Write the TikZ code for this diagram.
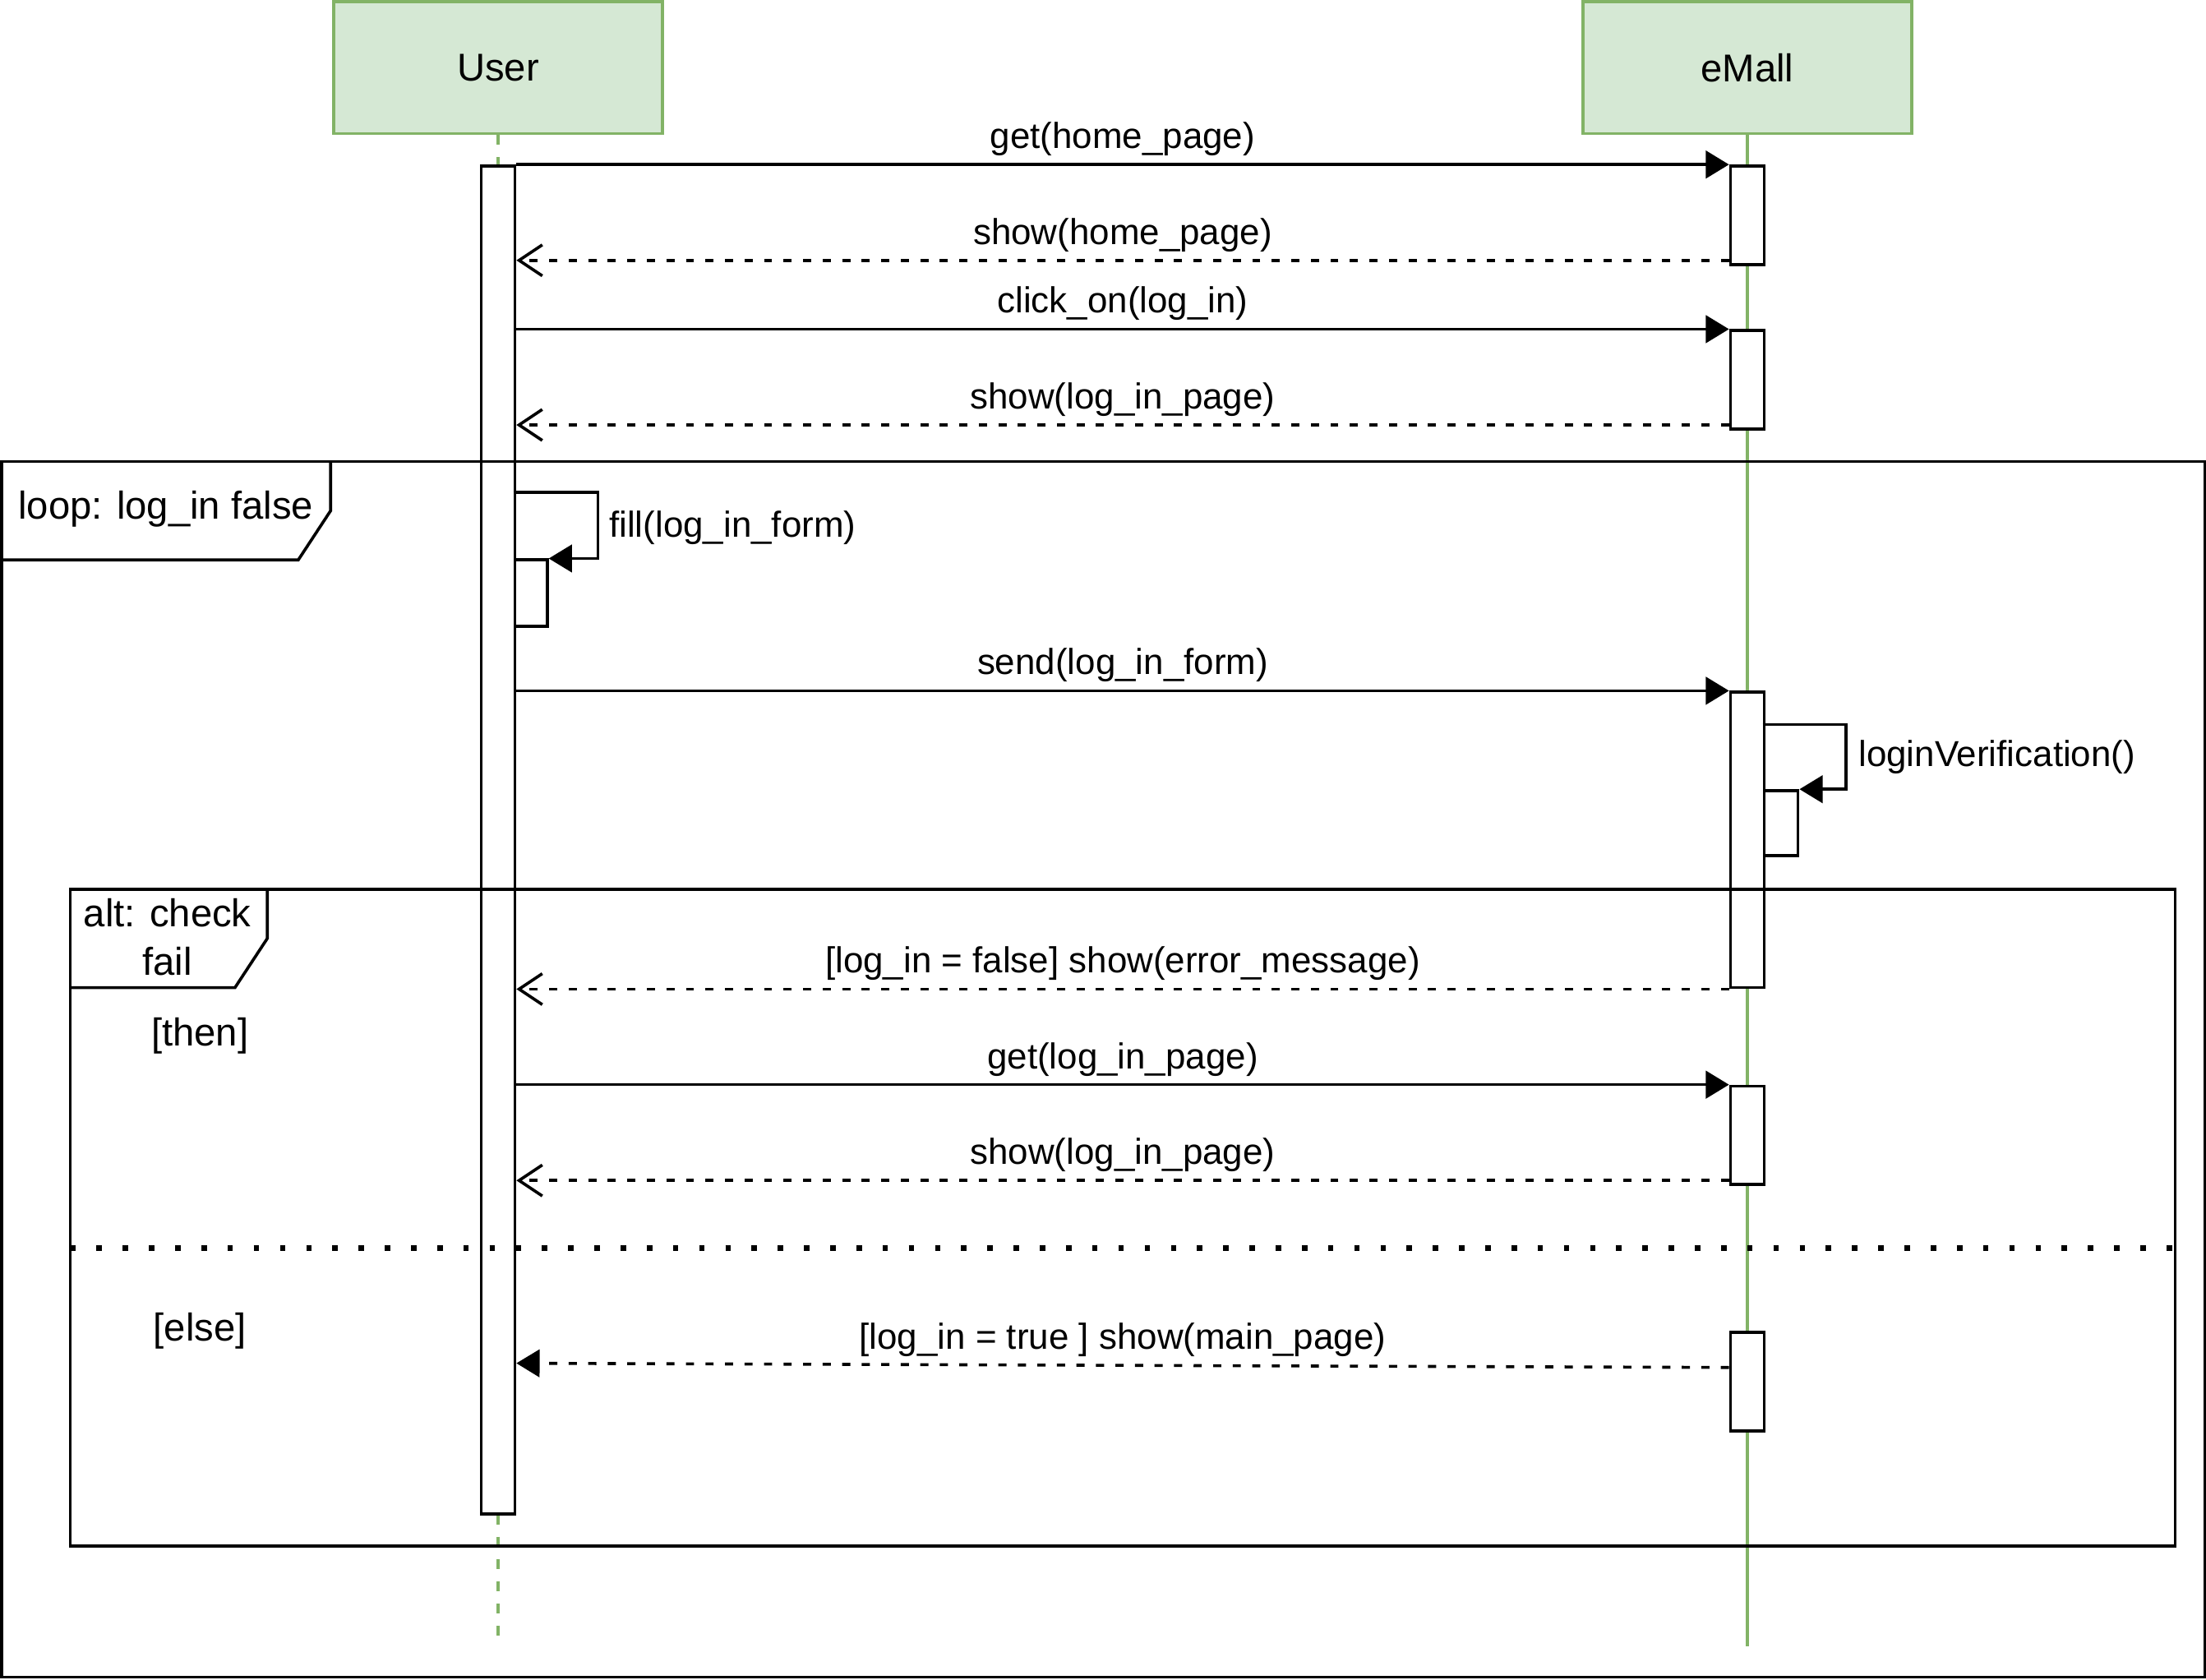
\documentclass[tikz,border=0pt]{standalone}
\usepackage{fontspec}
\setmainfont{Liberation Sans}
\usetikzlibrary{arrows.meta,calc}
\definecolor{lifefill}{HTML}{D5E8D4}
\definecolor{lifegreen}{HTML}{82B366}
\newcommand{\msgsize}{\fontsize{14.6}{17.5}\selectfont}
\newcommand{\tagsize}{\fontsize{15.7}{19.8}\selectfont}

\begin{document}
\begin{tikzpicture}[x=0.02cm,y=-0.02cm,line width=1.2pt,
  head/.style={draw=lifegreen,fill=lifefill,minimum width=4.68cm,minimum height=1.88cm,font=\tagsize},
  life/.style={draw=lifegreen},
  act/.style={draw,fill=white,minimum width=0.48cm,inner sep=0pt},
  call/.style={-{Triangle[length=0.33cm,width=0.39cm]}},
  ret/.style={dash pattern=on 3.3pt off 4.6pt,-{Straight Barb[length=0.33cm,width=0.44cm]}},
  lbl/.style={font=\msgsize,yshift=0.35cm,inner sep=0pt,text height=0.36cm,text depth=0.12cm},
  note/.style={font=\msgsize,inner sep=0pt,anchor=west},
  tag/.style={font=\tagsize,inner sep=0pt},
  ]
  \useasboundingbox (0,0) rectangle (1568,1194);

  \node[head] (user) at (354,48) {User};
  \node[head] (emall) at (1242,48) {eMall};
  \coordinate (uend) at (354,1168);
  \coordinate (eend) at (1242,1170);
  \draw[life,dash pattern=on 4pt off 5pt] (user) -- (uend);
  \draw[life] (emall) -- (eend);

  \node[act,minimum height=19.16cm] (ua) at (354,597) {};
  \node[act,minimum height=1.4cm] (e1) at (1242,153) {};
  \node[act,minimum height=1.4cm] (e2) at (1242,270) {};
  \node[act,minimum height=4.2cm] (e3) at (1242,597) {};
  \node[act,minimum height=1.4cm] (e4) at (1242,807) {};
  \node[act,minimum height=1.4cm] (e5) at (1242,982) {};
  \node[act,minimum width=0.46cm,minimum height=0.94cm] (us) at (377.5,421.5) {};
  \node[act,minimum height=0.92cm] (es) at (1266,585) {};

  % loop fragment
  \draw (1,328) rectangle (1567,1192);
  \draw (1,398) -- (212,398) -- (235,363) -- (235,328);
  \node[tag,anchor=west] (looptag) at (12,362) {loop: log\_in false};

  % alt fragment
  \draw (50,632) rectangle (1546,1099);
  \draw (50,702) -- (167,702) -- (190,667) -- (190,632);
  \node[tag,align=center] (alttag) at (119,666) {alt: check\\fail};
  \node[tag] (then) at (142,736) {[then]};
  \node[tag] (else) at (142,946) {[else]};
  \draw[line width=2.2pt,dash pattern=on 2.2pt off 8.4pt] (50,887) -- (1546,887);

  \path[call]
  (ua.east |- e1.north) edge node[lbl]{get(home\_page)} (e1.north west)
  (ua.east |- e2.north) edge node[lbl]{click\_on(log\_in)} (e2.north west)
  (ua.east |- e3.north) edge node[lbl]{send(log\_in\_form)} (e3.north west)
  (ua.east |- e4.north) edge node[lbl]{get(log\_in\_page)} (e4.north west);

  \path[ret]
  ($(e1.south west)+(0,0.08cm)$) edge node[lbl]{show(home\_page)} ($(ua.east |- e1.south)+(0,0.08cm)$)
  ($(e2.south west)+(0,0.08cm)$) edge node[lbl]{show(log\_in\_page)} ($(ua.east |- e2.south)+(0,0.08cm)$)
  (e3.south west) edge node[lbl]{[log\_in = false] show(error\_message)} (ua.east |- e3.south)
  ($(e4.south west)+(0,0.08cm)$) edge node[lbl]{show(log\_in\_page)} ($(ua.east |- e4.south)+(0,0.08cm)$);

  \path[ret,-{Triangle[length=0.33cm,width=0.39cm]}]
  ([yshift=-0.52cm]e5.north west) edge node[lbl]{[log\_in = true ] show(main\_page)} ($(ua.east |- e5.north)+(0,-0.46cm)$);

  % self calls
  \draw[call] ([yshift=0.94cm]us.north west) -| ([xshift=0.7cm]us.north east) -- (us.north east);
  \node[note] (filllbl) at (432,375) {fill(log\_in\_form)};
  \draw[call] ([yshift=0.92cm]es.north west) -| ([xshift=0.66cm]es.north east) -- (es.north east);
  \node[note] (veriflbl) at (1320,538) {loginVerification()};
\end{tikzpicture}
\end{document}
